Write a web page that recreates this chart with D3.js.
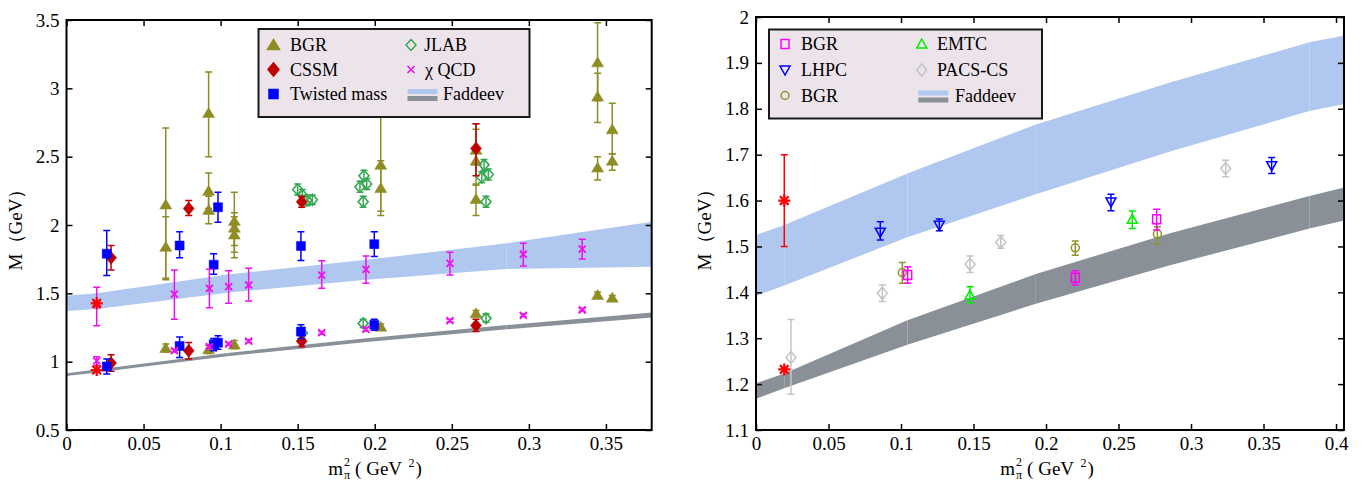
<!DOCTYPE html>
<html><head><meta charset="utf-8">
<script src="https://cdn.jsdelivr.net/npm/d3@7"></script>
<style>
body{margin:0;background:#fff}
svg{display:block}
</style>
</head><body>
<svg id="c" width="1367" height="482"></svg>
<script>
// ---------------- DATA ----------------
// Left panel: [m_pi^2, M, errLow, errHigh]
const leftBGR = [
  [0.0644,2.15,1.60,2.71],[0.0644,1.84,1.61,2.06],
  [0.0922,2.82,2.50,3.12],[0.0922,2.25,2.12,2.38],[0.0922,2.11,2.01,2.21],
  [0.1089,2.03,1.85,2.24],[0.1089,1.98,1.76,2.09],[0.1089,1.93,1.80,2.06],
  [0.2039,2.44,2.10,2.86],[0.2039,2.27,2.07,2.47],
  [0.2657,2.55,2.44,2.70],[0.2657,2.47,2.29,2.74],[0.2657,2.19,2.07,2.30],
  [0.3446,3.19,2.91,3.48],[0.3446,2.94,2.75,3.11],[0.3446,2.42,2.33,2.50],
  [0.3541,2.70,2.52,2.89],[0.3541,2.47,2.40,2.52],
  [0.0644,1.10,1.07,1.13],[0.0922,1.09,1.06,1.12],[0.1089,1.125,1.095,1.155],
  [0.2039,1.256,1.236,1.276],[0.2657,1.354,1.33,1.375],
  [0.3446,1.488,1.465,1.51],[0.3541,1.468,1.45,1.485]
];
const leftCSSM = [
  [0.0289,1.76,1.67,1.85],[0.0289,0.99,0.93,1.05],
  [0.0793,2.12,2.07,2.18],[0.0793,1.08,1.02,1.14],
  [0.1526,2.17,2.13,2.21],[0.1526,1.15,1.11,1.19],
  [0.2657,2.56,2.36,2.74],[0.2657,1.265,1.22,1.31]
];
const leftTwisted = [
  [0.0261,1.79,1.63,1.96],[0.0261,0.965,0.91,1.02],
  [0.0734,1.85,1.76,1.95],[0.0734,1.115,1.03,1.18],
  [0.0955,1.71,1.64,1.79],[0.0983,2.13,2.02,2.24],
  [0.0955,1.127,1.08,1.17],[0.0983,1.139,1.09,1.19],
  [0.1521,1.846,1.74,1.95],[0.1521,1.22,1.17,1.27],
  [0.1997,1.86,1.77,1.95],[0.1997,1.27,1.23,1.31]
];
const leftJLAB = [
  [0.150,2.26,2.22,2.30],[0.153,2.22,2.18,2.26],[0.156,2.18,2.14,2.22],[0.1595,2.185,2.15,2.22],
  [0.153,1.21,1.17,1.25],
  [0.1904,2.28,2.24,2.32],[0.193,2.36,2.32,2.40],[0.1948,2.30,2.26,2.34],[0.1925,2.17,2.13,2.21],
  [0.1925,1.28,1.25,1.31],
  [0.2694,2.35,2.31,2.39],[0.2709,2.44,2.40,2.48],[0.2737,2.37,2.33,2.41],[0.2722,2.17,2.13,2.21],
  [0.2722,1.317,1.29,1.35]
];
const leftChiQCD = [
  [0.0196,1.415,1.263,1.544],[0.070,1.495,1.31,1.67],[0.0927,1.537,1.395,1.676],
  [0.1052,1.549,1.427,1.666],[0.1182,1.561,1.444,1.683],[0.1656,1.634,1.537,1.739],
  [0.1943,1.676,1.573,1.773],[0.2488,1.72,1.634,1.80],[0.2964,1.786,1.70,1.866],
  [0.3346,1.824,1.751,1.895],
  [0.0196,1.005,0.97,1.036],[0.070,1.08,1.07,1.09],[0.0927,1.11,1.10,1.12],
  [0.1052,1.129,1.12,1.14],[0.1182,1.151,1.14,1.16],[0.1656,1.212,1.20,1.22],
  [0.1943,1.237,1.225,1.25],[0.2488,1.30,1.29,1.31],[0.2964,1.339,1.33,1.35],
  [0.3346,1.378,1.37,1.39]
];
const leftExp = [[0.0196,1.427,null,null],[0.0196,0.939,null,null]];

const leftBandX   = [0, 0.0195, 0.1044, 0.193, 0.2856, 0.38];
const leftBlueLo  = [1.371, 1.385, 1.505, 1.598, 1.678, 1.695];
const leftBlueHi  = [1.483, 1.500, 1.637, 1.743, 1.866, 2.024];
const leftGrayLo  = [0.895, 0.921, 1.040, 1.142, 1.237, 1.324];
const leftGrayHi  = [0.915, 0.942, 1.064, 1.170, 1.268, 1.360];

const leftXTicks = [0,0.05,0.1,0.15,0.2,0.25,0.3,0.35];
const leftXTickLabels = ["0","0.05","0.1","0.15","0.2","0.25","0.3","0.35"];
const leftYTicks = [0.5,1,1.5,2,2.5,3,3.5];
const leftYTickLabels = ["0.5","1","1.5","2","2.5","3","3.5"];

// Right panel
const rightBGRsq = [[0.1046,1.438,1.42,1.456],[0.2202,1.432,1.416,1.447],[0.2763,1.559,1.536,1.581]];
const rightLHPC = [[0.0857,1.531,1.514,1.554],[0.1264,1.546,1.534,1.56],[0.2448,1.597,1.578,1.614],[0.3556,1.676,1.659,1.694]];
const rightBGRci = [[0.1009,1.443,1.42,1.465],[0.2202,1.497,1.481,1.512],[0.2768,1.527,1.505,1.543]];
const rightEMTC = [[0.1476,1.394,1.377,1.412],[0.2595,1.559,1.539,1.577]];
const rightPACS = [[0.0241,1.258,1.178,1.341],[0.0871,1.398,1.38,1.416],[0.1476,1.461,1.443,1.479],[0.1688,1.509,1.496,1.524],[0.3239,1.670,1.652,1.688]];
const rightExp = [[0.0195,1.60,1.50,1.70],[0.0195,1.232,null,null]];

const rightBandX  = [0, 0.0195, 0.1044, 0.193, 0.2855, 0.3816, 0.405];
const rightBlueLo = [1.392, 1.415, 1.520, 1.614, 1.707, 1.795, 1.810];
const rightBlueHi = [1.525, 1.547, 1.659, 1.766, 1.857, 1.945, 1.959];
const rightGrayLo = [1.168, 1.191, 1.286, 1.375, 1.459, 1.539, 1.556];
const rightGrayHi = [1.202, 1.223, 1.339, 1.440, 1.529, 1.610, 1.628];

const rightXTicks = [0,0.05,0.1,0.15,0.2,0.25,0.3,0.35,0.4];
const rightXTickLabels = ["0","0.05","0.1","0.15","0.2","0.25","0.3","0.35","0.4"];
const rightYTicks = [1.1,1.2,1.3,1.4,1.5,1.6,1.7,1.8,1.9,2];
const rightYTickLabels = ["1.1","1.2","1.3","1.4","1.5","1.6","1.7","1.8","1.9","2"];

// ---------------- STYLE ----------------
const FONT = '"Liberation Serif", "Times New Roman", serif';
const C = {
  olive:"#8e8c22", cssm:"#c00000", blue:"#0000ff", jlab:"#35a852", magenta:"#ee11ee",
  red:"#ff0000", band1:"#b0c8ef", band2:"#8a9098", legendBg:"#ece4ea",
  pacs:"#c4c4c4", emtc:"#00ee00", olive2:"#93922a", mag2:"#ff00ff"
};
const SYM = {
  triFill:"M0,-5.5L6,4.5L-6,4.5Z",
  diaFill:"M0,-6.5L5.5,0L0,6.5L-5.5,0Z",
  sqFill:"M-4.5,-4.5h9v9h-9Z",
  diaOpen:"M0,-5.5L5,0L0,5.5L-5,0Z",
  cross:"M-3.5,-3.5L3.5,3.5M-3.5,3.5L3.5,-3.5",
  star:"M-6,0H6M0,-6V6M-4.3,-4.3L4.3,4.3M-4.3,4.3L4.3,-4.3",
  sqOpen:"M-4,-4.5h8v9h-8Z",
  triDown:"M-5,-4L5,-4L0,5Z",
  circle:"M4,0A4,4 0 1 1 -4,0A4,4 0 1 1 4,0Z",
  triUp:"M0,-5L5,4L-5,4Z",
  diaOpen2:"M0,-6L5,0L0,6L-5,0Z"
};

const svg = d3.select("#c");
const defs = svg.append("defs");

function txt(sel, size){
  return sel.style("font-family",FONT).style("font-size",size+"px").style("fill","#000");
}

function panel(o){
  const x = d3.scaleLinear().domain(o.xDomain).range([o.left,o.right]);
  const y = d3.scaleLinear().domain(o.yDomain).range([o.bottom,o.top]);
  defs.append("clipPath").attr("id",o.id).append("rect")
    .attr("x",o.left).attr("y",o.top).attr("width",o.right-o.left).attr("height",o.bottom-o.top);
  const g = svg.append("g");
  const plot = g.append("g").attr("clip-path",`url(#${o.id})`);

  function band(xs, lo, hi, color){
    for(let i=0;i<xs.length-1;i++){
      const pts=[[xs[i],lo[i]],[xs[i+1],lo[i+1]],[xs[i+1],hi[i+1]],[xs[i],hi[i]]];
      plot.append("path").attr("d","M"+pts.map(p=>x(p[0])+","+y(p[1])).join("L")+"Z")
        .attr("fill",color);
    }
  }
  band(o.bandX,o.blueLo,o.blueHi,C.band1);
  band(o.bandX,o.grayLo,o.grayHi,C.band2);

  o.series.forEach(s=>{
    const sg = plot.append("g");
    s.data.forEach(d=>{
      const cx=x(d[0]);
      if(d[2]!=null){
        const y1=y(d[2]), y2=y(d[3]);
        sg.append("path").attr("d",`M${cx},${y1}V${y2}M${cx-3.5},${y1}H${cx+3.5}M${cx-3.5},${y2}H${cx+3.5}`)
          .attr("stroke",s.color).attr("stroke-width",1.5).attr("fill","none");
      }
    });
    s.data.forEach(d=>{
      const cx=x(d[0]), cy=y(d[1]);
      sg.append("path").attr("d",s.sym).attr("transform",`translate(${cx},${cy})`)
        .attr("fill",s.fill?s.color:"none").attr("stroke",s.color)
        .attr("stroke-width",s.sw||1.5);
    });
  });

  const styleAxis = sel=>{sel.select(".domain").remove();
    sel.selectAll(".tick line").attr("stroke","#000").attr("stroke-width",1.5);
    txt(sel.selectAll("text"),19);};
  g.append("g").attr("transform",`translate(0,${o.bottom})`)
    .call(d3.axisBottom(x).tickValues(o.xTicks).tickFormat((d,i)=>o.xLabels[i]).tickSize(-6).tickPadding(7)).call(styleAxis);
  g.append("g").attr("transform",`translate(0,${o.top})`)
    .call(d3.axisTop(x).tickValues(o.xTicks).tickFormat("").tickSize(-6)).call(styleAxis);
  g.append("g").attr("transform",`translate(${o.left},0)`)
    .call(d3.axisLeft(y).tickValues(o.yTicks).tickFormat((d,i)=>o.yLabels[i]).tickSize(-6).tickPadding(7)).call(styleAxis);
  g.append("g").attr("transform",`translate(${o.right},0)`)
    .call(d3.axisRight(y).tickValues(o.yTicks).tickFormat("").tickSize(-6)).call(styleAxis);
  g.append("rect").attr("x",o.left).attr("y",o.top).attr("width",o.right-o.left).attr("height",o.bottom-o.top)
    .attr("fill","none").attr("stroke","#000").attr("stroke-width",2);

  txt(g.append("text").attr("transform",`translate(${o.yLabelX},225) rotate(-90)`)
    .attr("text-anchor","middle"),19).text("M（GeV）");
  const t = txt(g.append("text").attr("x",o.xLabelX).attr("y",475).attr("text-anchor","middle"),19);
  t.append("tspan").text("m");
  t.append("tspan").style("font-size","12px").attr("dy",-9).attr("dx",1).text("2");
  t.append("tspan").style("font-size","12px").attr("dy",13).attr("dx",-6).text("π");
  t.append("tspan").attr("dy",-4).attr("dx",5).text("( GeV ");
  t.append("tspan").style("font-size","12px").attr("dy",-8).attr("dx",2).text("2");
  t.append("tspan").attr("dy",8).attr("dx",1).text(")");

  const L=o.legend;
  g.append("rect").attr("x",L.x).attr("y",L.y).attr("width",L.w).attr("height",L.h)
    .attr("fill",C.legendBg).attr("stroke","#1a1a1a").attr("stroke-width",2);
  L.items.forEach(it=>{
    if(it.band){
      g.append("rect").attr("x",it.sx-15).attr("y",it.cy-5).attr("width",30).attr("height",5).attr("fill",C.band1);
      g.append("rect").attr("x",it.sx-15).attr("y",it.cy+2).attr("width",30).attr("height",5).attr("fill",C.band2);
    } else {
      g.append("path").attr("d",it.sym).attr("transform",`translate(${it.sx},${it.cy})`)
        .attr("fill",it.fill?it.color:"none").attr("stroke",it.color).attr("stroke-width",it.sw||1.5);
    }
    txt(g.append("text").attr("x",it.tx).attr("y",it.cy+6),18).text(it.label);
  });
}

panel({
  id:"clipL", left:66.5, right:651.7, top:20, bottom:430,
  xDomain:[0,0.3797], yDomain:[0.5,3.5],
  xTicks:leftXTicks, xLabels:leftXTickLabels, yTicks:leftYTicks, yLabels:leftYTickLabels,
  bandX:leftBandX, blueLo:leftBlueLo, blueHi:leftBlueHi, grayLo:leftGrayLo, grayHi:leftGrayHi,
  yLabelX:22, xLabelX:375,
  series:[
    {data:leftBGR, sym:SYM.triFill, color:C.olive, fill:true, sw:0.5},
    {data:leftJLAB, sym:SYM.diaOpen, color:C.jlab, fill:false, sw:1.6},
    {data:leftCSSM, sym:SYM.diaFill, color:C.cssm, fill:true, sw:0.5},
    {data:leftTwisted, sym:SYM.sqFill, color:C.blue, fill:true, sw:0.5},
    {data:leftChiQCD, sym:SYM.cross, color:C.magenta, fill:false, sw:1.8},
    {data:leftExp, sym:SYM.star, color:C.red, fill:false, sw:2.2}
  ],
  legend:{x:258.5,y:29,w:271,h:88,items:[
    {label:"BGR", sym:SYM.triFill, color:C.olive, fill:true, sx:273.5, tx:290, cy:45},
    {label:"CSSM", sym:SYM.diaFill, color:C.cssm, fill:true, sx:273.5, tx:290, cy:69.5},
    {label:"Twisted mass", sym:SYM.sqFill, color:C.blue, fill:true, sx:273.5, tx:290, cy:94},
    {label:"JLAB", sym:SYM.diaOpen, color:C.jlab, fill:false, sx:411, tx:424, cy:45},
    {label:"χ QCD", sym:SYM.cross, color:C.magenta, fill:false, sx:411, tx:425, cy:69.5, sw:1.6},
    {label:"Faddeev", band:true, sx:422.5, tx:443, cy:94}
  ]}
});

panel({
  id:"clipR", left:756, right:1344, top:17, bottom:430,
  xDomain:[0,0.4055], yDomain:[1.1,2.0],
  xTicks:rightXTicks, xLabels:rightXTickLabels, yTicks:rightYTicks, yLabels:rightYTickLabels,
  bandX:rightBandX, blueLo:rightBlueLo, blueHi:rightBlueHi, grayLo:rightGrayLo, grayHi:rightGrayHi,
  yLabelX:711, xLabelX:1047,
  series:[
    {data:rightPACS, sym:SYM.diaOpen2, color:C.pacs, fill:false},
    {data:rightExp, sym:SYM.star, color:C.red, fill:false, sw:2.2},
    {data:rightBGRci, sym:SYM.circle, color:C.olive2, fill:false},
    {data:rightBGRsq, sym:SYM.sqOpen, color:C.mag2, fill:false},
    {data:rightLHPC, sym:SYM.triDown, color:C.blue, fill:false},
    {data:rightEMTC, sym:SYM.triUp, color:C.emtc, fill:false}
  ],
  legend:{x:769,y:29.5,w:273,h:89,items:[
    {label:"BGR", sym:SYM.sqOpen, color:C.mag2, fill:false, sx:785, tx:801, cy:44},
    {label:"LHPC", sym:SYM.triDown, color:C.blue, fill:false, sx:785, tx:801, cy:70},
    {label:"BGR", sym:SYM.circle, color:C.olive2, fill:false, sx:785, tx:801, cy:95.5},
    {label:"EMTC", sym:SYM.triUp, color:C.emtc, fill:false, sx:921.7, tx:937, cy:44},
    {label:"PACS-CS", sym:SYM.diaOpen2, color:C.pacs, fill:false, sx:921.7, tx:937, cy:70},
    {label:"Faddeev", band:true, sx:933.3, tx:955, cy:95.5}
  ]}
});
</script>
</body></html>
